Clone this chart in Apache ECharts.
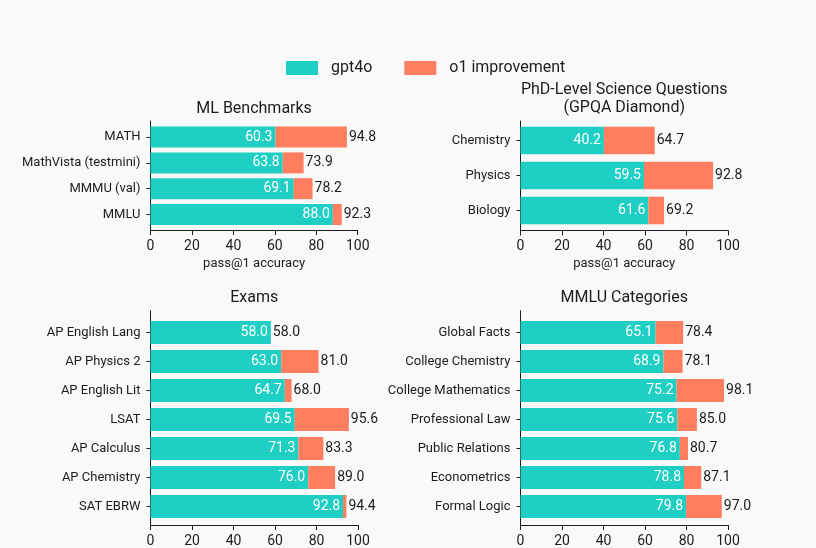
<!DOCTYPE html>
<html>
<head>
<meta charset="utf-8">
<script src="https://cdn.jsdelivr.net/npm/echarts@6/dist/echarts.min.js"></script>
<style>
html,body{margin:0;padding:0;background:#f9f9f9;}
#chart{width:816px;height:548px;}
</style>
</head>
<body>
<div id="chart"></div>
<script>
// ---- data ----
const mlCategories = ['MATH', 'MathVista (testmini)', 'MMMU (val)', 'MMLU'];
const mlGpt4o = [60.3, 63.8, 69.1, 88.0];
const mlO1 = [94.8, 73.9, 78.2, 92.3];

const gpqaCategories = ['Chemistry', 'Physics', 'Biology'];
const gpqaGpt4o = [40.2, 59.5, 61.6];
const gpqaO1 = [64.7, 92.8, 69.2];

const examCategories = ['AP English Lang', 'AP Physics 2', 'AP English Lit', 'LSAT', 'AP Calculus', 'AP Chemistry', 'SAT EBRW'];
const examGpt4o = [58.0, 63.0, 64.7, 69.5, 71.3, 76.0, 92.8];
const examO1 = [58.0, 81.0, 68.0, 95.6, 83.3, 89.0, 94.4];

const mmluCategories = ['Global Facts', 'College Chemistry', 'College Mathematics', 'Professional Law', 'Public Relations', 'Econometrics', 'Formal Logic'];
const mmluGpt4o = [65.1, 68.9, 75.2, 75.6, 76.8, 78.8, 79.8];
const mmluO1 = [78.4, 78.1, 98.1, 85.0, 80.7, 87.1, 97.0];

const xTicks = [0, 20, 40, 60, 80, 100];
const axisName = 'pass@1 accuracy';

// ---- style ----
const TEAL = '#1fcfc4';
const CORAL = '#ff7e5f';
const INK = '#1c1c1c';
const FONT = 'Roboto';

const panels = [
  { title: 'ML Benchmarks', cats: mlCategories, a: mlGpt4o, b: mlO1,
    frame: { left: 150.5, top: 121, width: 207.2, height: 109 },
    data: { left: 150.5, top: 124.2, width: 207.2, height: 103.2 }, barW: 21, name: true, titleTop: 100 },
  { title: 'PhD-Level Science Questions\n(GPQA Diamond)', cats: gpqaCategories, a: gpqaGpt4o, b: gpqaO1,
    frame: { left: 520.5, top: 121, width: 207.5, height: 109.5 },
    data: { left: 520.5, top: 123, width: 207.5, height: 105 }, barW: 27.5, name: true, titleTop: 81 },
  { title: 'Exams', cats: examCategories, a: examGpt4o, b: examO1,
    frame: { left: 150.5, top: 310.7, width: 207.5, height: 216.3 },
    data: { left: 150.5, top: 318, width: 207.5, height: 203 }, barW: 23, name: false, titleTop: 289 },
  { title: 'MMLU Categories', cats: mmluCategories, a: mmluGpt4o, b: mmluO1,
    frame: { left: 520.5, top: 310.7, width: 207.5, height: 216.3 },
    data: { left: 520.5, top: 318, width: 207.5, height: 203 }, barW: 23, name: false, titleTop: 289 }
];

const grid = [], xAxis = [], yAxis = [], series = [], title = [];

panels.forEach((p, i) => {
  const fi = i * 2, di = i * 2 + 1;
  grid.push(Object.assign({ containLabel: false }, p.frame));
  grid.push(Object.assign({ containLabel: false }, p.data));

  // frame axes (visible spines, x ticks, labels)
  xAxis.push({
    type: 'value', gridIndex: fi, min: xTicks[0], max: xTicks[xTicks.length - 1],
    interval: xTicks[1] - xTicks[0],
    axisLine: { show: true, lineStyle: { color: INK, width: 1 } },
    axisTick: { show: true, length: 5, lineStyle: { color: INK } },
    axisLabel: { color: INK, fontSize: 14, fontFamily: FONT, margin: 9 },
    splitLine: { show: false },
    name: p.name ? axisName : '', nameLocation: 'middle', nameGap: 27,
    nameTextStyle: { color: INK, fontSize: 13, fontFamily: FONT }
  });
  yAxis.push({
    type: 'value', gridIndex: fi, min: 0, max: 1,
    axisLine: { show: true, onZero: false, lineStyle: { color: INK, width: 1 } },
    axisTick: { show: false }, axisLabel: { show: false }, splitLine: { show: false }
  });

  // data axes
  xAxis.push({
    type: 'value', gridIndex: di, min: xTicks[0], max: xTicks[xTicks.length - 1],
    show: false, splitLine: { show: false }
  });
  yAxis.push({
    type: 'category', gridIndex: di, data: p.cats, inverse: true,
    axisLine: { show: false },
    axisTick: { show: true, alignWithLabel: true, length: 4, lineStyle: { color: INK } },
    axisLabel: { color: INK, fontSize: 13, fontFamily: FONT, margin: 10 },
    splitLine: { show: false }
  });

  const improvement = p.b.map((v, k) => Math.round((v - p.a[k]) * 10) / 10);

  series.push({
    name: 'gpt4o', type: 'bar', stack: 's' + i, xAxisIndex: di, yAxisIndex: di,
    data: p.a, barWidth: p.barW, itemStyle: { color: TEAL },
    label: { show: true, position: 'insideRight', distance: 3, color: '#ffffff',
      fontSize: 14, fontFamily: FONT, formatter: (q) => p.a[q.dataIndex].toFixed(1) },
    silent: true, animation: false
  });
  series.push({
    name: 'o1 improvement', type: 'bar', stack: 's' + i, xAxisIndex: di, yAxisIndex: di,
    data: improvement, barWidth: p.barW, itemStyle: { color: CORAL },
    label: { show: true, position: 'right', distance: 2, color: INK,
      fontSize: 14, fontFamily: FONT, formatter: (q) => p.b[q.dataIndex].toFixed(1) },
    silent: true, animation: false
  });

  title.push({
    text: p.title, left: p.frame.left + p.frame.width / 2, top: p.titleTop, textAlign: 'center',
    padding: 0,
    textStyle: { color: INK, fontSize: 16, fontWeight: 'normal', fontFamily: FONT, lineHeight: 18 }
  });
});

const chart = echarts.init(document.getElementById('chart'), null, { renderer: 'canvas' });
chart.setOption({
  backgroundColor: '#f9f9f9',
  animation: false,
  title: title,
  legend: {
    data: ['gpt4o', 'o1 improvement'],
    left: 286, top: 60, padding: 0,
    icon: 'rect', itemWidth: 32, itemHeight: 14, itemGap: 32,
    textStyle: { color: INK, fontSize: 16, fontFamily: FONT, padding: [0, 0, 0, 8] },
    selectedMode: false
  },
  grid: grid,
  xAxis: xAxis,
  yAxis: yAxis,
  series: series
});
</script>
</body>
</html>
